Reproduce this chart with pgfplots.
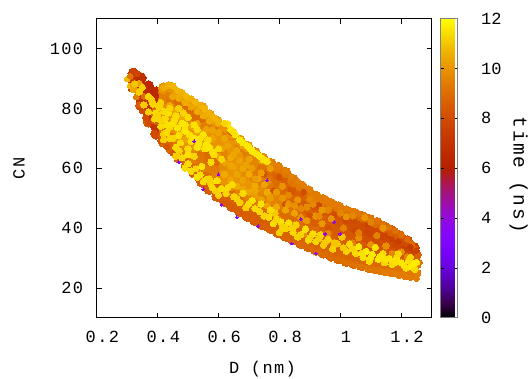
\documentclass[border=0pt]{standalone}
\usepackage{pgfplots}
\usepackage{fontspec}
\setmainfont{Liberation Mono}
\newfontfamily\lsfont[LetterSpace=8]{Liberation Mono}
\pgfplotsset{compat=1.18}
\pgfplotsset{
  colormap={gp}{rgb=(0,0,0) rgb=(.224,0,.309) rgb=(.316,.001,.588) rgb=(.387,.003,.809) rgb=(.447,.008,.951) rgb=(.5,.016,1) rgb=(.548,.027,.951) rgb=(.592,.043,.809) rgb=(.632,.064,.588) rgb=(.671,.091,.309) rgb=(.707,.125,0) rgb=(.742,.166,0) rgb=(.775,.216,0) rgb=(.806,.275,0) rgb=(.837,.343,0) rgb=(.866,.422,0) rgb=(.894,.512,0) rgb=(.922,.614,0) rgb=(.949,.729,0) rgb=(.975,.857,0) rgb=(1,1,0)},
  pts/.style={scatter, only marks, mark=*, mark size=#1, scatter src=explicit,
    scatter/use mapped color={draw=mapped color, fill=mapped color}, mark options={line width=0pt}},
}
\begin{document}
\begin{tikzpicture}[font=\fontsize{17}{20}\selectfont]
\useasboundingbox (-96.7pt,-60.3pt) rectangle (433.3pt,317.7pt);
\begin{axis}[
  at={(0pt,0pt)}, anchor=south west, scale only axis, width=335pt, height=299pt,
  xmin=0.2, xmax=1.3, ymin=10, ymax=110,
  xtick={0.2,0.4,0.6,0.8,1,1.2}, ytick={20,40,60,80,100},
  tick align=inside, tick pos=both, major tick length=5pt, tick style={black, line width=.6pt},
  axis line style={black, line width=.8pt},
  /pgf/number format/assume math mode=true,
  /pgf/number format/1000 sep={},
  xticklabel style={font=\lsfont\fontsize{17}{20}\selectfont, xshift=5.7pt, yshift=-10pt},
  yticklabel style={font=\lsfont\fontsize{17}{20}\selectfont, xshift=-10pt},
  xlabel={D (nm)}, ylabel={CN},
  xlabel style={font=\lsfont\fontsize{17}{20}\selectfont, at={(axis description cs:0.495,-0.1716)}, anchor=center},
  ylabel style={font=\lsfont\fontsize{17}{20}\selectfont, at={(axis description cs:-0.232,0.5)}, anchor=center},
  point meta min=0, point meta max=12,
  colormap name=gp,
  colorbar,
  colorbar style={
    at={(1.0269,0)}, anchor=south west, scale only axis, width=17pt, height=299pt,
    ytick={0,2,4,6,8,10,12}, tick align=inside, ytick pos=both, yticklabel pos=right,
    major tick length=3pt, tick style={black, line width=.6pt},
    axis line style={gray, line width=.6pt},
    /pgf/number format/assume math mode=true,
    yticklabel style={anchor=west, xshift=20pt},
    ylabel={time (ns)},
    ylabel style={font=\lsfont\fontsize{19.5}{22}\selectfont, at={(axis description cs:4.59,0.477)}, anchor=center, rotate=180},
  },
]
\addplot[pts=5.3] table[meta index=2]{
0.32 87 7.5
0.32 89.4 7.5
0.32 91.6 7.2
0.345 81 8
0.345 83.4 7
0.345 85.8 6.8
0.345 88.2 6.5
0.345 90.2 6.5
0.37 75.5 8.5
0.37 78 7
0.37 80.4 7
0.37 82.8 7
0.37 85.2 6.5
0.37 87.5 6.5
0.395 71.5 8
0.395 73.9 7
0.395 76.3 8.5
0.395 78.7 9
0.395 81.1 9
0.395 83.5 6.6
0.395 85.5 6.5
0.42 68.8 8.8
0.42 71.2 8.5
0.42 73.6 9.3
0.42 76 10
0.42 78.4 10
0.42 80.8 10
0.42 83.2 9.5
0.42 85.6 9.5
0.42 86.8 10
0.445 66.4 8.8
0.445 68.8 8.8
0.445 71.2 9.3
0.445 73.6 10
0.445 76 10
0.445 78.4 10
0.445 80.8 9.8
0.445 83.2 9.3
0.445 85.6 9.5
0.445 87 10
0.47 63.5 8.8
0.47 65.9 9
0.47 68.3 9.5
0.47 70.7 10
0.47 73.1 10
0.47 75.5 10
0.47 77.9 9.8
0.47 80.3 9.2
0.47 82.7 9
0.47 85 10.2
0.495 61 8.7
0.495 63.4 8.8
0.495 65.8 9.5
0.495 68.2 10
0.495 70.6 10
0.495 73 10
0.495 75.4 9.8
0.495 77.8 9.8
0.495 80.2 9
0.495 82.6 10.2
0.52 58.5 8.6
0.52 60.9 8.8
0.52 63.3 9.5
0.52 65.7 9.8
0.52 68.1 10
0.52 70.5 10
0.52 72.9 10
0.52 75.3 9.8
0.52 77.7 9
0.52 80.1 9
0.52 81.6 10.2
0.545 55.5 8.6
0.545 57.9 8.7
0.545 60.3 9.5
0.545 62.7 9.3
0.545 65.1 9.2
0.545 67.5 10
0.545 69.9 10
0.545 72.3 10
0.545 74.7 9.5
0.545 77.1 9
0.545 79.5 10
0.545 80.3 10.2
0.57 53 8.5
0.57 55.4 8.7
0.57 57.8 9
0.57 60.2 9.5
0.57 62.6 9
0.57 65 9
0.57 67.4 9.8
0.57 69.8 10
0.57 72.2 10
0.57 74.6 9.5
0.57 77 9.3
0.57 77.8 10.2
0.595 50.7 8.5
0.595 53.1 8.6
0.595 55.5 8.8
0.595 57.9 9.6
0.595 60.3 9.4
0.595 62.7 9
0.595 65.1 9.3
0.595 67.5 10
0.595 69.9 10
0.595 72.3 10
0.595 74.7 9.3
0.595 75.7 10.2
0.62 49 8.5
0.62 51.4 8.6
0.62 53.8 9
0.62 56.2 10
0.62 58.6 10
0.62 61 9.8
0.62 63.4 9.4
0.62 65.8 9.6
0.62 68.2 10
0.62 70.6 10
0.62 73 9.3
0.62 73.8 10
0.645 47.2 8.5
0.645 49.6 8.6
0.645 52 9
0.645 54.4 10
0.645 56.8 10
0.645 59.2 10
0.645 61.6 10
0.645 64 9.8
0.645 66.4 10
0.645 68.8 10
0.645 71.2 9.5
0.645 71.7 10
0.67 45.6 8.5
0.67 48 8.6
0.67 50.4 9
0.67 52.8 9.6
0.67 55.2 10
0.67 57.6 10
0.67 60 10
0.67 62.4 10
0.67 64.8 10
0.67 67.2 9.5
0.67 69.3 10
0.695 44 8.5
0.695 46.4 8.6
0.695 48.8 9.2
0.695 51.2 9.6
0.695 53.6 10
0.695 56 10
0.695 58.4 9.8
0.695 60.8 9.8
0.695 63.2 9.8
0.695 65.6 9.5
0.695 67.3 10
0.72 42.5 8.5
0.72 44.9 8.6
0.72 47.3 9.2
0.72 49.7 9.5
0.72 52.1 9.8
0.72 54.5 10
0.72 56.9 9.6
0.72 59.3 9.4
0.72 61.7 9.6
0.72 64.1 9.6
0.72 65.2 9.8
0.745 41.2 8.6
0.745 43.6 8.6
0.745 46 9
0.745 48.4 9.3
0.745 50.8 9.6
0.745 53.2 9.8
0.745 55.6 9.4
0.745 58 9.3
0.745 60.4 9.2
0.745 62.8 9.6
0.745 63.3 9.8
0.77 40 8.6
0.77 42.4 8.6
0.77 44.8 9
0.77 47.2 9.2
0.77 49.6 9.6
0.77 52 10
0.77 54.4 9.3
0.77 56.8 9.2
0.77 59.2 9
0.77 61.6 9.6
0.795 38.6 8.7
0.795 41 8.7
0.795 43.4 8.8
0.795 45.8 9.2
0.795 48.2 9.6
0.795 50.6 9.6
0.795 53 9.2
0.795 55.4 9
0.795 57.8 8.8
0.795 60.2 9.4
0.82 37.4 8.7
0.82 39.8 8.8
0.82 42.2 8.8
0.82 44.6 9
0.82 47 9.4
0.82 49.4 9.2
0.82 51.8 9
0.82 54.2 8.8
0.82 56.6 8.6
0.82 58.6 9.3
0.845 36.2 8.8
0.845 38.6 8.8
0.845 41 8.8
0.845 43.4 9
0.845 45.8 9.2
0.845 48.2 9
0.845 50.6 8.8
0.845 53 8.4
0.845 55.4 9.2
0.845 56.2 9.3
0.87 34.9 8.8
0.87 37.3 8.8
0.87 39.7 8.8
0.87 42.1 9
0.87 44.5 9
0.87 46.9 8.8
0.87 49.3 8.6
0.87 51.7 8.6
0.87 54.1 9.3
0.895 33.8 8.8
0.895 36.2 8.8
0.895 38.6 8.8
0.895 41 8.8
0.895 43.4 9
0.895 45.8 8.6
0.895 48.2 8.4
0.895 50.6 8.8
0.895 52.4 9.3
0.92 32.7 8.8
0.92 35.1 8.8
0.92 37.5 8.8
0.92 39.9 9
0.92 42.3 8.6
0.92 44.7 8.8
0.92 47.1 8.4
0.92 49.5 8.8
0.92 50.6 9.4
0.945 31.7 8.8
0.945 34.1 8.8
0.945 36.5 8.8
0.945 38.9 8.8
0.945 41.3 8.6
0.945 43.7 8.6
0.945 46.1 8.4
0.945 48.5 8.8
0.945 49.4 9.4
0.97 30.7 8.8
0.97 33.1 8.8
0.97 35.5 8.8
0.97 37.9 8.6
0.97 40.3 8.5
0.97 42.7 8.6
0.97 45.1 8.3
0.97 47.5 8.8
0.97 48.1 9.4
0.995 29.8 8.8
0.995 32.2 8.8
0.995 34.6 8.8
0.995 37 8.6
0.995 39.4 8.5
0.995 41.8 8.4
0.995 44.2 8.3
0.995 46.6 8.6
0.995 47 9.3
1.02 28.9 8.9
1.02 31.3 8.8
1.02 33.7 8.7
1.02 36.1 8.6
1.02 38.5 8.4
1.02 40.9 8.2
1.02 43.3 8.2
1.02 45.7 9.2
1.045 28.2 8.9
1.045 30.6 8.8
1.045 33 8.7
1.045 35.4 8.5
1.045 37.8 8.4
1.045 40.2 8.1
1.045 42.6 8
1.045 44.9 9.2
1.07 27.5 9
1.07 29.9 8.8
1.07 32.3 8.6
1.07 34.7 8.5
1.07 37.1 8.2
1.07 39.5 8
1.07 41.9 8
1.07 43.9 9
1.095 26.8 9.1
1.095 29.2 8.9
1.095 31.6 8.6
1.095 34 8.4
1.095 36.4 8.1
1.095 38.8 7.8
1.095 41.2 7.9
1.095 42.8 9
1.12 26.4 9.2
1.12 28.8 8.9
1.12 31.2 8.6
1.12 33.6 8.3
1.12 36 8
1.12 38.4 7.8
1.12 40.8 7.9
1.12 41.8 9
1.145 25.9 9.3
1.145 28.3 9
1.145 30.7 8.6
1.145 33.1 8.3
1.145 35.5 8
1.145 37.9 7.7
1.145 40.3 8.8
1.17 25.4 9.4
1.17 27.8 9
1.17 30.2 8.6
1.17 32.6 8.2
1.17 35 7.9
1.17 37.4 7.6
1.17 39 8.6
1.195 24.9 9.4
1.195 27.3 9.2
1.195 29.7 8.6
1.195 32.1 8.2
1.195 34.5 7.8
1.195 36.9 7.6
1.195 37.4 8.6
1.22 24.4 9.4
1.22 26.8 9.2
1.22 29.2 8.6
1.22 31.6 8
1.22 34 7.6
1.22 35.6 8
1.242 24.5 9.3
1.242 26.9 9.2
1.242 29.3 8.6
1.242 31.7 8
1.242 33.4 7.5
};
% edge grains, lower then upper rim
\addplot[pts=2.9] table[meta index=2]{
0.30 89.8 10.8
0.31 87.5 10.8
0.32 86.2 10.5
0.33 83.8 9.5
0.34 81.2 8.5
0.35 79.2 8
0.36 77 8
0.37 75.2 8
0.39 71.8 8
0.41 69.2 8.2
0.43 67.2 8.3
0.45 65 8.4
0.47 62.9 8.5
0.49 60.9 8.5
0.51 58.9 8.5
0.53 56.7 8.5
0.55 54.5 8.5
0.57 52.4 8.5
0.59 50.7 8.5
0.61 49.2 8.5
0.63 47.8 8.5
0.65 46.4 8.5
0.67 45.1 8.5
0.69 43.9 8.6
0.71 42.7 8.6
0.73 41.4 8.6
0.75 40.3 8.7
0.77 39.4 8.7
0.79 38.4 8.7
0.81 37.4 8.8
0.83 36.4 8.8
0.85 35.5 8.8
0.87 34.5 8.9
0.89 33.6 8.9
0.91 32.8 8.9
0.93 31.9 9
0.95 31.2 9
0.97 30.4 9
0.99 29.6 9
1.01 28.9 9.1
1.03 28.3 9.1
1.05 27.7 9.2
1.07 27.1 9.2
1.09 26.5 9.3
1.11 25.9 9.3
1.13 25.4 9.3
1.15 25 9.4
1.17 24.6 9.4
1.19 24.2 9.4
1.21 23.8 9.4
1.23 23.4 9.4
1.25 23.1 9.4
1.255 25 9.4
0.78 61.7 9.5
0.80 60.8 9.5
0.82 59.2 9.5
0.84 57.2 9.5
0.86 55.6 9.5
0.88 54.2 9.5
0.90 52.6 9.5
0.92 51.2 9.4
0.94 50.2 9.4
0.96 49.2 9.4
0.98 48.2 9.4
1.0 47.4 9.4
1.02 46.5 9.4
1.04 45.7 9.4
1.06 44.9 9.3
1.08 44.2 9.3
1.10 43.2 9.3
1.12 42.4 9.2
1.14 41.2 9.2
1.16 40.2 9.2
1.18 39 9.1
1.20 37.7 9
1.22 36.2 9
1.235 34.8 9
1.248 33 8.8
1.256 31 8.7
1.26 28.5 9.2
};
% dark grains
\addplot[pts=2.9] table[meta index=2]{
0.31 90.8 9.3
0.32 92.5 7.6
0.335 91.5 7.8
0.35 90.6 6.9
0.32 88 10.3
0.33 86 10.3
0.34 88.4 10.3
0.355 84 9
0.37 80 7
0.64 72 9
0.88 52 8
0.93 47.5 7.9
0.98 44.5 8
1.02 42.5 7.9
1.05 39 7.8
1.09 41 7.7
1.14 37 7.7
1.19 35.6 7.5
1.23 33.6 7.3
1.25 32.5 7.6
1.252 30 8.6
1.255 27.5 9.2
1.253 24.5 9.5
0.82 48 8.2
0.78 52.5 8.2
0.86 47 8.3
0.90 44 8.2
0.80 57 8.2
0.75 58 8.2
0.96 40 8.3
1.00 37 8.2
};
% orange grains
\addplot[pts=3.1] table[meta index=2]{
0.42 86.9 10.5
0.435 87.8 10.6
0.45 87.5 10.7
0.465 86 10.7
0.48 85.2 10.6
0.495 84 10.8
0.51 83.2 10.6
0.525 81.9 10.7
0.54 81 10.6
0.555 79.8 10.7
0.57 78.2 10.6
0.585 76.8 10.7
0.60 75.4 10.7
0.45 84 10.4
0.47 83.5 10.5
0.49 82 10.5
0.51 80.5 10.4
0.53 79 10.5
0.55 77.5 10.5
0.57 75.8 10.5
0.44 81 10.5
0.46 79.5 10.4
0.48 76.5 10.5
0.51 74 10.4
0.54 71.8 10.4
0.58 70 10.4
0.61 66.5 10.4
0.55 68 10.5
0.52 71 10.4
0.64 63.5 10.5
0.66 66 10.4
0.68 60 10.4
0.70 58 10.5
0.72 54 10.5
0.76 52 10.5
0.79 47 10.5
0.82 46 10.4
0.85 45 10.3
0.64 56 10.4
0.66 54 10.5
0.62 58 10.5
0.68 53 10.4
0.74 49.5 10.3
0.78 44.8 10.3
0.85 41 10.2
0.89 42.5 10.1
0.94 46 10.1
0.97 43.2 10
1.02 43.8 10
1.06 36.8 9.9
1.10 34.5 9.9
1.15 34 9.9
1.20 32 9.9
0.81 54 10
0.86 49.5 10
0.92 44 10
0.74 58.5 10.2
0.77 60 10.2
0.74 62.5 10.2
0.68 67.5 10.3
0.70 63 10.3
0.62 70 10.4
0.94 41.5 10.1
1.08 43.5 10
1.14 40 10
0.60 64 10.2
0.65 60.5 10.3
0.72 50.5 10.2
0.76 55.5 9.9
0.83 51 9.7
0.87 46.5 9.7
0.91 48 9.7
0.96 38.2 9.7
1.01 40 9.6
1.04 35 9.6
1.12 37.5 9.6
1.17 31.5 9.7
1.22 30.4 9.7
0.80 42.7 9.8
0.99 34.6 9.8
0.47 72 10.3
0.49 69.5 10.3
0.53 75 10.4
0.56 73 10.3
0.58 72.8 10.4
0.60 72 10.3
0.63 67.5 10.3
0.65 64.5 10.4
0.67 62.5 10.3
0.69 61 10.3
0.71 60 10.2
0.73 56.5 10.3
0.75 54.5 10.3
0.66 58 10.4
0.68 56 10.3
0.70 52 10.4
0.72 56.5 10.2
0.77 50 10.2
0.79 52 10.1
0.81 50 10
0.83 48 10
0.87 43.5 10
0.85 47.5 9.9
0.89 47 9.8
0.93 44 9.8
0.88 38 10
0.76 47.5 10.3
0.72 52.5 10.4
0.64 61 10.4
0.62 62 10.3
1.0 45 9.7
1.04 44 9.7
1.1 42 9.6
1.06 38.5 9.5
0.96 46 9.7
0.9 49.5 9.7
};
% bright strip and blobs
\addplot[pts=3.2] table[meta index=2]{
0.325 88.2 11
0.34 85.5 11.2
0.35 87 11.2
0.355 81.2 11.1
0.37 84 11.3
0.37 78.8 11.2
0.385 81.5 11.3
0.39 76.5 11.3
0.395 78.5 11.4
0.405 80.5 11.3
0.41 74 11.4
0.42 71.5 11.2
0.425 76.5 11.4
0.435 78.5 11.5
0.44 73.8 11.4
0.45 70 11.3
0.455 76.2 11.5
0.465 73.5 11.6
0.47 65.8 11.3
0.475 68.5 11.4
0.48 63.5 11.3
0.485 78.5 11.3
0.49 74.5 11.5
0.50 61.5 11.4
0.50 64.5 11.5
0.505 71.2 11.5
0.52 70 11.6
0.525 59.8 11.3
0.53 73 11.5
0.535 68.2 11.6
0.54 57.8 11.4
0.545 60.6 11.5
0.55 71.2 11.6
0.555 66.5 11.5
0.56 56.2 11.4
0.565 69.5 11.4
0.57 67 11.6
0.575 54.8 11.3
0.585 64.5 11.4
0.59 52.5 11.2
0.595 55.8 11.5
0.61 53.2 11.4
0.625 51.6 11.3
0.63 74.8 11.5
0.64 73 11.6
0.645 54.5 11.4
0.655 71.2 11.6
0.66 49.8 11.2
0.67 69.5 11.7
0.68 51.6 11.4
0.69 46.8 11.2
0.695 67.5 11.6
0.71 65.8 11.7
0.71 49.2 11.5
0.725 64.8 11.6
0.735 45.5 11.3
0.74 48 11.5
0.745 63.2 11.7
0.76 62.3 11.5
0.765 43.6 11.4
0.78 41.5 11.4
0.785 45 11.1
0.80 38.5 11.2
0.805 42 11.5
0.82 39.8 11.3
0.83 41.8 11.5
0.845 38.6 11.4
0.855 41 11.2
0.87 37.8 11.3
0.885 39.6 11.5
0.895 36 11.4
0.91 38 11.4
0.92 35.5 11.3
0.935 37.8 11.3
0.945 34.3 11.1
0.96 36.2 11.2
0.975 33 11.2
0.99 34.8 11.1
1.005 37 11
1.02 32.2 11.2
1.03 34.6 11.4
1.05 31.5 11.4
1.06 33.8 11.6
1.075 30.2 11.5
1.085 32.2 11.7
1.095 28.9 11.4
1.105 31.2 11.7
1.115 33.5 11.5
1.125 29.6 11.6
1.14 31.5 11.4
1.145 28.4 11.3
1.16 29.8 11.6
1.17 27.8 11.4
1.185 30 11.5
1.20 28.4 11.6
1.215 26.6 11.5
1.225 29 11.5
1.235 27 11.7
1.25 28.5 11.6
1.245 26.2 11.4
0.38 83 11.2
0.40 78 11.3
0.41 82 11.2
0.42 79 11.4
0.43 74.5 11.5
0.44 80 11.3
0.45 75 11.5
0.46 77.5 11.4
0.47 71 11.5
0.48 75 11.6
0.49 72.5 11.6
0.50 77 11.4
0.51 69 11.5
0.52 74.5 11.5
0.53 67 11.6
0.54 70 11.5
0.56 68 11.6
0.58 65.5 11.5
0.60 66.5 11.4
0.575 62 11.4
0.61 63 11.3
0.47 80 11.2
0.50 66.5 11.4
0.52 64 11.3
0.44 70 11.3
0.46 67 11.4
0.43 72 11.4
0.41 76 11.3
0.42 69.5 11.2
0.46 64 11.2
0.49 60 11.4
0.51 59 11.4
0.53 57 11.5
0.55 55.5 11.4
0.57 56.5 11.3
0.58 53.5 11.4
0.60 51 11.2
0.63 53.5 11.4
0.65 50.5 11.3
0.67 48.5 11.2
0.70 48.2 11.4
0.72 46.5 11.4
0.75 44 11.3
0.77 46 11.4
0.79 43 11.3
0.81 40.5 11.3
0.84 40 11.3
0.86 37 11.2
0.90 36.8 11.3
0.93 36.5 11.2
0.95 35.2 11.1
0.98 35 11
1.01 33.4 11.1
1.04 33 11.3
1.07 31.5 11.5
1.10 30.2 11.6
1.13 30.5 11.6
1.15 29.5 11.5
1.18 28.5 11.5
1.19 31.4 11.3
1.21 27.5 11.6
1.24 28 11.7
1.23 30.2 11.3
0.62 75 11.3
0.65 72 11.5
0.68 68.5 11.6
0.70 67 11.6
0.735 64 11.6
0.75 62.8 11.5
};
\addplot[pts=1.4] table[meta index=2]{
0.55 53 3.5
0.61 47.8 3.5
0.66 43.6 3.5
0.47 62 3.5
0.52 69 3.5
0.60 58 3.5
0.73 40.6 3.5
0.76 56 3.5
0.87 43 3.5
0.98 42 3.5
0.95 38 3.5
0.92 31.5 3.5
0.84 34.8 3.5
1.00 38 3.5
};
\end{axis}
\end{tikzpicture}
\end{document}
